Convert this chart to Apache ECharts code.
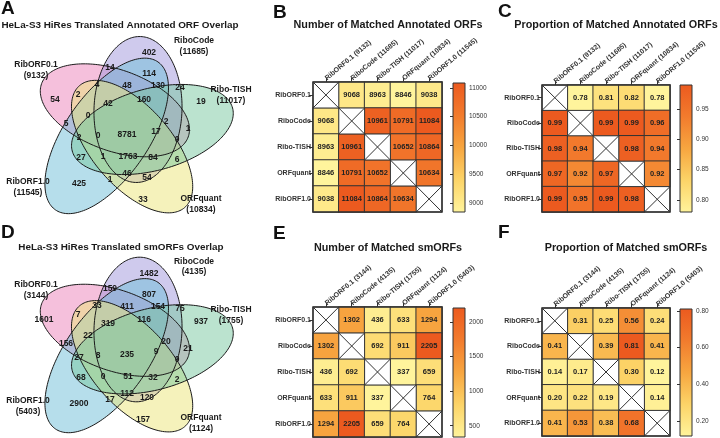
<!DOCTYPE html>
<html><head><meta charset="utf-8">
<script src="https://cdn.jsdelivr.net/npm/echarts@6/dist/echarts.min.js"></script>
<style>html,body{margin:0;padding:0;background:#fff}#main{width:720px;height:438px}</style>
</head><body><div id="main"></div>
<script>
// ---------------- data ----------------
const setNames = ['RibORF0.1', 'RiboCode', 'Ribo-TISH', 'ORFquant', 'RibORF1.0'];
const annotatedTotals = [9132, 11685, 11017, 10834, 11545];
const smorfTotals = [3144, 4135, 1755, 1124, 5403];
// Venn region counts (same region order in both diagrams)
const vennAnnotatedCounts = [54, 14, 402, 2, 4, 114, 48, 130, 24, 42, 160, 19, 0, 5, 2, 2, 0, 8781, 17, 1, 0, 27, 1, 1763, 84, 6, 425, 1, 46, 54, 33];
const vennSmorfCounts = [1601, 159, 1482, 7, 33, 807, 411, 154, 75, 319, 116, 937, 22, 156, 20, 27, 8, 235, 9, 21, 0, 68, 0, 51, 32, 2, 2900, 17, 112, 120, 157];
const matchedAnnotated = [
  [null, 9068, 8963, 8846, 9038],
  [9068, null, 10961, 10791, 11084],
  [8963, 10961, null, 10652, 10864],
  [8846, 10791, 10652, null, 10634],
  [9038, 11084, 10864, 10634, null]
];
const propAnnotated = [
  [null, 0.78, 0.81, 0.82, 0.78],
  [0.99, null, 0.99, 0.99, 0.96],
  [0.98, 0.94, null, 0.98, 0.94],
  [0.97, 0.92, 0.97, null, 0.92],
  [0.99, 0.95, 0.99, 0.98, null]
];
const matchedSmorf = [
  [null, 1302, 436, 633, 1294],
  [1302, null, 692, 911, 2205],
  [436, 692, null, 337, 659],
  [633, 911, 337, null, 764],
  [1294, 2205, 659, 764, null]
];
const propSmorf = [
  [null, 0.31, 0.25, 0.56, 0.24],
  [0.41, null, 0.39, 0.81, 0.41],
  [0.14, 0.17, null, 0.30, 0.12],
  [0.20, 0.22, 0.19, null, 0.14],
  [0.41, 0.53, 0.38, 0.68, null]
];
const ticksMatchedAnnotated = [9000, 9500, 10000, 10500, 11000];
const ticksPropAnnotated = [0.80, 0.85, 0.90, 0.95];
const ticksMatchedSmorf = [500, 1000, 1500, 2000];
const ticksPropSmorf = [0.20, 0.40, 0.60, 0.80];

// ---------------- layout / style ----------------
const FONT = "'Liberation Sans', Arial, Helvetica, sans-serif";
// ellipse geometry in panel pixels: [cx, cy, semi-major, semi-minor, rotation deg]
const vennEllipses = [
  [114.9, 110.3, 78.0, 40.5, 20],
  [138.0, 109.5, 73.0, 44.0, 92],
  [152.4, 129.5, 83.0, 41.0, 165],
  [132.1, 146.6, 80.5, 39.8, 229.2],
  [106.7, 135.9, 90.0, 42.0, 304.7]
];
const drawOrder = [0, 1, 4, 3, 2];
const vennFill = ['rgba(236,130,185,0.5)', 'rgba(160,150,220,0.5)', 'rgba(120,200,160,0.5)', 'rgba(235,230,120,0.5)', 'rgba(110,190,215,0.5)'];
const regionPos = [
  [55, 100], [110, 68], [149, 53], [78, 95], [97, 85], [149, 74], [127, 86], [158, 86], [180, 88],
  [108, 104], [144, 100], [201, 102], [88, 116], [66, 124], [166, 122], [79, 138], [98, 136],
  [127, 135], [156, 132], [188, 129], [177, 140], [81, 158], [103, 157], [128, 157], [153, 158],
  [177, 160], [79, 184], [110, 180], [127, 174], [147, 178], [143, 200]
];
const regionPosD = regionPos.map((p, i) => i === 0 ? [44, 100] : p);
const setLabelPos = [[36, 70], [194, 46], [231, 95], [201, 204], [28, 187]];
const palette = ['#FFF49C', '#FCD468', '#F7A640', '#F27B2D', '#EC5A1F'];

function ePts(e, n) {
  const r = e[4] * Math.PI / 180, pts = [];
  for (let i = 0; i < n; i++) {
    const t = 2 * Math.PI * i / n;
    pts.push([e[0] + e[2] * Math.cos(t) * Math.cos(r) - e[3] * Math.sin(t) * Math.sin(r),
              e[1] + e[2] * Math.cos(t) * Math.sin(r) + e[3] * Math.sin(t) * Math.cos(r)]);
  }
  return pts;
}
function cells(mat) { const out = []; mat.forEach((row, r) => row.forEach((v, c) => { if (v != null) out.push([c, r, v]); })); return out; }
function range(mat) { const v = mat.flat().filter(x => x != null); return [Math.min(...v), Math.max(...v)]; }

const chart = echarts.init(document.getElementById('main'), null, { renderer: 'canvas' });
const grids = [], xAxes = [], yAxes = [], series = [], visualMaps = [];

function addVenn(top, counts, totals, pos) {
  const gi = grids.length;
  grids.push({ left: 0, top: top, width: 240, height: 219 });
  xAxes.push({ gridIndex: gi, type: 'value', min: 0, max: 240, show: false });
  yAxes.push({ gridIndex: gi, type: 'value', min: 0, max: 219, inverse: true, show: false });
  const ed = drawOrder.map(k => [k, 0]);
  series.push({ type: 'custom', xAxisIndex: gi, yAxisIndex: gi, clip: false, silent: true, data: ed,
    renderItem: (p, api) => ({ type: 'polygon', shape: { points: ePts(vennEllipses[api.value(0)], 180).map(q => api.coord(q)) }, style: { fill: vennFill[api.value(0)], stroke: null } }) });
  series.push({ type: 'custom', xAxisIndex: gi, yAxisIndex: gi, clip: false, silent: true, data: ed,
    renderItem: (p, api) => ({ type: 'polygon', shape: { points: ePts(vennEllipses[api.value(0)], 180).map(q => api.coord(q)) }, style: { fill: null, stroke: '#1a1a1a', lineWidth: 1 } }) });
  series.push({ type: 'custom', xAxisIndex: gi, yAxisIndex: gi, clip: false, silent: true,
    data: counts.map((c, i) => [pos[i][0], pos[i][1], c]),
    renderItem: (p, api) => { const c = api.coord([api.value(0), api.value(1)]);
      return { type: 'text', x: c[0], y: c[1], style: { text: String(api.value(2)), font: 'bold 8.5px ' + FONT, fill: '#1a1a1a', align: 'center', verticalAlign: 'middle' } }; } });
  series.push({ type: 'custom', xAxisIndex: gi, yAxisIndex: gi, clip: false, silent: true,
    data: setNames.map((n, k) => [setLabelPos[k][0], setLabelPos[k][1], k]),
    renderItem: (p, api) => { const k = api.value(2); const c = api.coord([api.value(0), api.value(1)]);
      return { type: 'text', x: c[0], y: c[1], style: { text: setNames[k] + '\n(' + totals[k] + ')', font: 'bold 8.5px ' + FONT, lineHeight: 10.5, fill: '#1a1a1a', align: 'center', verticalAlign: 'middle' } }; } });
}
addVenn(0, vennAnnotatedCounts, annotatedTotals, regionPos);
addVenn(221, vennSmorfCounts, smorfTotals, regionPosD);

function addHeat(box, bar, mat, totals, ticks, dec) {
  const gi = grids.length;
  const [vmin, vmax] = range(mat);
  const fmt = v => dec ? Number(v).toFixed(2) : String(v);
  grids.push({ left: box[0], top: box[1], width: box[2], height: box[3] });
  xAxes.push({ gridIndex: gi, type: 'category', position: 'top', data: setNames.map((n, k) => n + ' (' + totals[k] + ')'),
    axisLine: { show: false }, splitLine: { show: false },
    axisTick: { show: true, alignWithLabel: true, length: 4, lineStyle: { color: '#333' } },
    axisLabel: { rotate: -40, fontSize: 7, fontWeight: 'bold', color: '#333', margin: 3, fontFamily: FONT, interval: 0 } });
  yAxes.push({ gridIndex: gi, type: 'category', inverse: true, data: setNames,
    axisLine: { show: false }, splitLine: { show: false },
    axisTick: { show: true, alignWithLabel: true, length: 4, lineStyle: { color: '#333' } },
    axisLabel: { fontSize: 7, fontWeight: 'bold', color: '#333', margin: 2, fontFamily: FONT, interval: 0 } });
  const si = series.length;
  series.push({ type: 'heatmap', xAxisIndex: gi, yAxisIndex: gi, data: cells(mat),
    itemStyle: { borderColor: '#333', borderWidth: 1 },
    label: { show: true, formatter: p => fmt(p.value[2]), fontSize: 7.5, fontWeight: 'bold', color: '#222', fontFamily: FONT },
    emphasis: { disabled: true } });
  visualMaps.push({ type: 'continuous', show: false, seriesIndex: si, min: vmin, max: vmax, dimension: 2, inRange: { color: palette } });
  series.push({ type: 'custom', xAxisIndex: gi, yAxisIndex: gi, silent: true, clip: false, data: setNames.map((n, i) => [i, i]),
    renderItem: (p, api) => {
      const c = api.coord([api.value(0), api.value(1)]), s = api.size([1, 1]);
      const x0 = c[0] - s[0] / 2, y0 = c[1] - s[1] / 2, x1 = c[0] + s[0] / 2, y1 = c[1] + s[1] / 2;
      const ls = { stroke: '#333', lineWidth: 1 };
      return { type: 'group', children: [
        { type: 'rect', shape: { x: x0, y: y0, width: s[0], height: s[1] }, style: { fill: '#fff', stroke: '#333', lineWidth: 1 } },
        { type: 'line', shape: { x1: x0, y1: y0, x2: x1, y2: y1 }, style: ls },
        { type: 'line', shape: { x1: x1, y1: y0, x2: x0, y2: y1 }, style: ls } ] };
    } });
  series.push({ type: 'custom', xAxisIndex: gi, yAxisIndex: gi, silent: true, clip: false, data: [[0, 0]],
    renderItem: (p, api) => { const a = api.coord([0, 0]), s = api.size([1, 1]);
      return { type: 'rect', shape: { x: a[0] - s[0] / 2, y: a[1] - s[1] / 2, width: s[0] * 5, height: s[1] * 5 }, style: { fill: null, stroke: '#333', lineWidth: 1.5 } }; } });
  const bi = grids.length;
  grids.push({ left: bar[0], top: bar[1], width: bar[2], height: bar[3] });
  xAxes.push({ gridIndex: bi, type: 'value', min: 0, max: 1, show: false });
  yAxes.push({ gridIndex: bi, type: 'value', min: vmin, max: vmax, position: 'right',
    axisLine: { show: false }, splitLine: { show: false },
    axisTick: { show: true, inside: true, length: 3, customValues: ticks, lineStyle: { color: '#333' } },
    axisLabel: { customValues: ticks, formatter: v => fmt(v), fontSize: 6.5, color: '#333', margin: 4, fontFamily: FONT } });
  series.push({ type: 'custom', xAxisIndex: bi, yAxisIndex: bi, silent: true, clip: false, data: [[0, vmin, 1, vmax]],
    renderItem: (p, api) => {
      const a = api.coord([api.value(0), api.value(3)]), b = api.coord([api.value(2), api.value(1)]);
      const stops = palette.slice().reverse().map((c, i) => ({ offset: i / (palette.length - 1), color: c }));
      return { type: 'rect', shape: { x: a[0], y: a[1], width: b[0] - a[0], height: b[1] - a[1] },
        style: { fill: new echarts.graphic.LinearGradient(0, 0, 0, 1, stops), stroke: '#333', lineWidth: 1 } };
    } });
}
addHeat([313, 82, 129, 130], [453, 83, 12, 129], matchedAnnotated, annotatedTotals, ticksMatchedAnnotated, false);
addHeat([542, 85, 128, 127], [680, 85, 12, 127], propAnnotated, annotatedTotals, ticksPropAnnotated, true);
addHeat([313, 307, 129, 130], [453, 308, 12, 129], matchedSmorf, smorfTotals, ticksMatchedSmorf, false);
addHeat([542, 308, 128, 128], [680, 309, 12, 127], propSmorf, smorfTotals, ticksPropSmorf, true);

const titles = [
  ['HeLa-S3 HiRes Translated Annotated ORF Overlap', 120, 25, 9.9],
  ['Number of Matched Annotated ORFs', 388, 25, 10.8],
  ['Proportion of Matched Annotated ORFs', 616, 25, 10.8],
  ['HeLa-S3 HiRes Translated smORFs Overlap', 121, 247, 9.9],
  ['Number of Matched smORFs', 388, 248, 10.8],
  ['Proportion of Matched smORFs', 626, 248, 10.8]
];
const letters = [['A', 1, 8.5], ['B', 273, 13], ['C', 498, 11.5], ['D', 1, 232.5], ['E', 273, 234], ['F', 498, 232.5]];
const graphic = [];
titles.forEach(t => graphic.push({ type: 'text', x: t[1], y: t[2], silent: true,
  style: { text: t[0], font: 'bold ' + t[3] + 'px ' + FONT, fill: '#1a1a1a', align: 'center', verticalAlign: 'middle' } }));
letters.forEach(t => graphic.push({ type: 'text', x: t[1], y: t[2], silent: true,
  style: { text: t[0], font: 'bold 19px ' + FONT, fill: '#111', align: 'left', verticalAlign: 'middle' } }));

chart.setOption({ animation: false, backgroundColor: '#fff', textStyle: { fontFamily: FONT },
  grid: grids, xAxis: xAxes, yAxis: yAxes, visualMap: visualMaps, series: series, graphic: graphic });
</script></body></html>
